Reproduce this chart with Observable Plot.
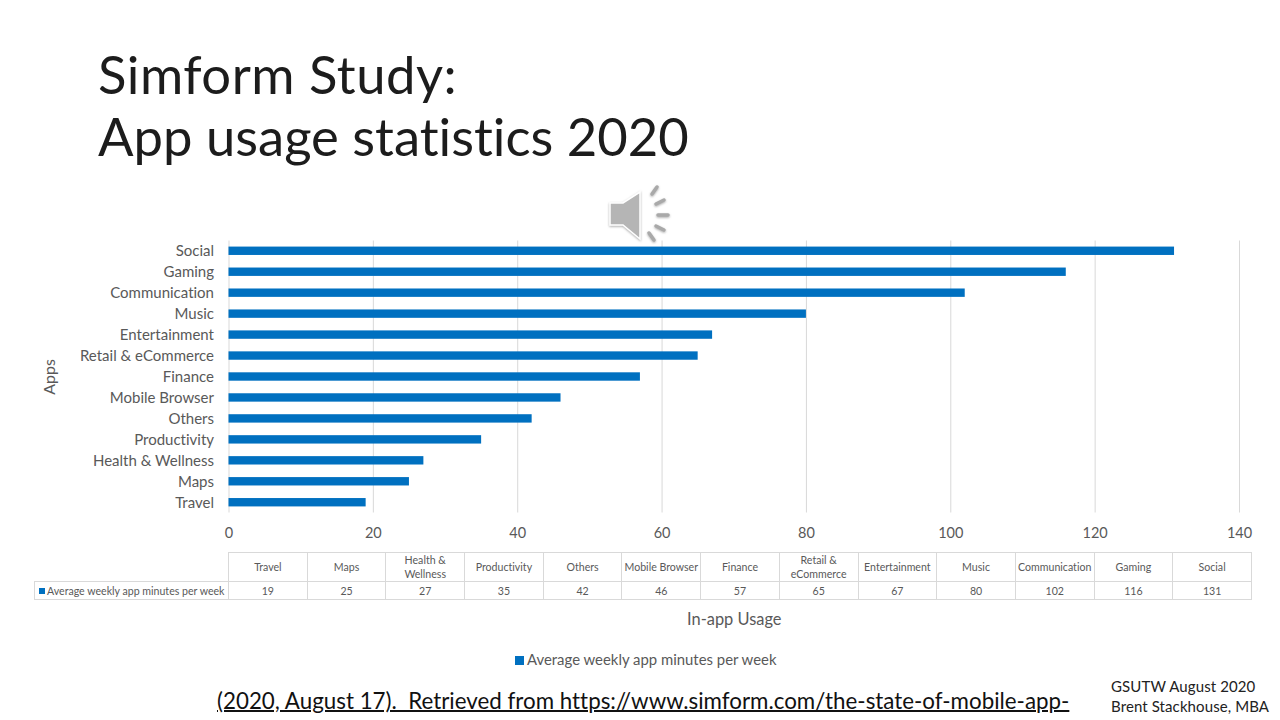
<!DOCTYPE html>
<html><head><meta charset="utf-8">
<script src="https://cdn.jsdelivr.net/npm/d3@7"></script>
<script src="https://cdn.jsdelivr.net/npm/@observablehq/plot@0.6"></script>
<style>
html,body{margin:0;padding:0;background:#fff;width:1280px;height:720px;overflow:hidden}
body{position:relative;font-family:Lato,"Open Sans",sans-serif;font-variant-ligatures:none}
#chart{position:absolute;left:0;top:0}
#chart svg{display:block;background:transparent;font-variant-ligatures:none}
.abs{position:absolute;white-space:nowrap}
#title{left:98px;top:43px;font-size:52.6px;line-height:62px;font-weight:400;color:#1c1c1c}
#title span{letter-spacing:.5px}
#cite{left:217px;top:687px;font-size:22.35px;line-height:28px;color:#111;text-decoration:underline;text-decoration-thickness:2px}
#corner{left:1111px;top:677px;font-size:15px;line-height:19.5px;color:#222;letter-spacing:.1px}
#legend{left:515px;top:650px;font-size:14.9px;line-height:18px;color:#595959}
#legend i,.sw{display:inline-block;background:#0070c0}
#legend i{width:9px;height:9px;margin-right:3px}
table{position:absolute;left:34px;top:552px;border-collapse:collapse;table-layout:fixed;width:1217px;font-size:10.6px;color:#595959}
td{border:1px solid #d9d9d9;text-align:center;padding:0;line-height:14px;overflow:hidden}
tr:first-child td{height:27px}
tr:last-child td{height:17px}
td.blank{border:0;border-right:1px solid #d9d9d9;border-bottom:1px solid #d9d9d9}
td.key{text-align:left;padding-left:4px;white-space:nowrap}
.sw{width:6px;height:6px;margin-right:2px;vertical-align:1px}
#speaker{left:606px;top:183px}
</style></head><body>
<div id="chart"></div>
<div class="abs" id="title"><span>Simform Study:</span><br>App usage statistics 2020</div>
<svg class="abs" id="speaker" width="68" height="62" viewBox="0 0 68 62">
<defs><filter id="s" x="-30%" y="-30%" width="160%" height="160%"><feDropShadow dx="0" dy="1" stdDeviation="1.2" flood-color="#888" flood-opacity=".7"/></filter></defs>
<g filter="url(#s)">
<path d="M4 20H17L34 9V56L17 42H4Z" fill="#b5b5b5" stroke="#fff" stroke-width="1.5"/>
<g stroke="#a9a9a9" stroke-width="3.5" stroke-linecap="round" stroke-linejoin="round">
<path d="M46 11L51 4M50 21L58 17M52 32H62M50 43L58 47M43 50L48 57"/>
</g></g></svg>
<table id="tbl"></table>
<div class="abs" id="legend"></div>
<div class="abs" id="cite">(2020, August 17).&nbsp; Retrieved from https://www.simform.com/the-state-of-mobile-app-</div>
<div class="abs" id="corner">GSUTW August 2020<br>Brent Stackhouse, MBA</div>
<script>
const categories = ["Travel","Maps","Health & Wellness","Productivity","Others","Mobile Browser","Finance","Retail & eCommerce","Entertainment","Music","Communication","Gaming","Social"];
const minutes = [19,25,27,35,42,46,57,65,67,80,102,116,131];
const xTicks = [0,20,40,60,80,100,120,140];
const seriesName = "Average weekly app minutes per week";
const rows = categories.map((app,i)=>({app,value:minutes[i]}));
const grey = "#595959";

const plot = Plot.plot({
  width:1280,height:720,
  marginLeft:228.5,marginRight:41,marginTop:240.5,marginBottom:207.5,
  style:{fontFamily:"Lato, 'Open Sans', sans-serif",background:"transparent"},
  x:{domain:[0,140]},
  y:{domain:[...categories].reverse(),paddingInner:0.6,paddingOuter:0.29,round:false},
  marks:[
    Plot.gridX(xTicks,{stroke:"#d9d9d9",strokeOpacity:1}),
    Plot.barX(rows,{x:"value",y:"app",fill:"#0070c0"}),
    Plot.axisX({ticks:xTicks,tickSize:0,tickPadding:15,fontSize:14.5,color:grey,label:"In-app Usage",labelAnchor:"center",labelArrow:"none",labelOffset:112}),
    Plot.axisY({tickSize:0,tickPadding:15,fontSize:15,color:grey,label:"Apps",labelAnchor:"center",labelArrow:"none",labelOffset:185})
  ]
});
plot.style.color = grey;
document.getElementById("chart").append(plot);
// axis titles are larger than tick labels in the reference
plot.querySelectorAll("text").forEach(t=>{
  if (t.textContent==="In-app Usage"||t.textContent==="Apps") t.setAttribute("font-size", t.textContent==="Apps"?16:16.4);
});

const tbl = document.getElementById("tbl");
const colgroup = document.createElement("colgroup");
colgroup.innerHTML = `<col style="width:194px">` + categories.map(()=>`<col style="width:78.69px">`).join("");
tbl.append(colgroup);
const r1 = tbl.insertRow(), r2 = tbl.insertRow();
r1.insertCell().className = "blank";
const key = r2.insertCell(); key.className = "key";
key.innerHTML = `<span class="sw"></span>`;
key.append(seriesName);
rows.forEach(d=>{ r1.insertCell().textContent = d.app; r2.insertCell().textContent = d.value; });
const lg = document.getElementById("legend");
lg.innerHTML = "<i></i>"; lg.append(seriesName);
</script>
</body></html>
